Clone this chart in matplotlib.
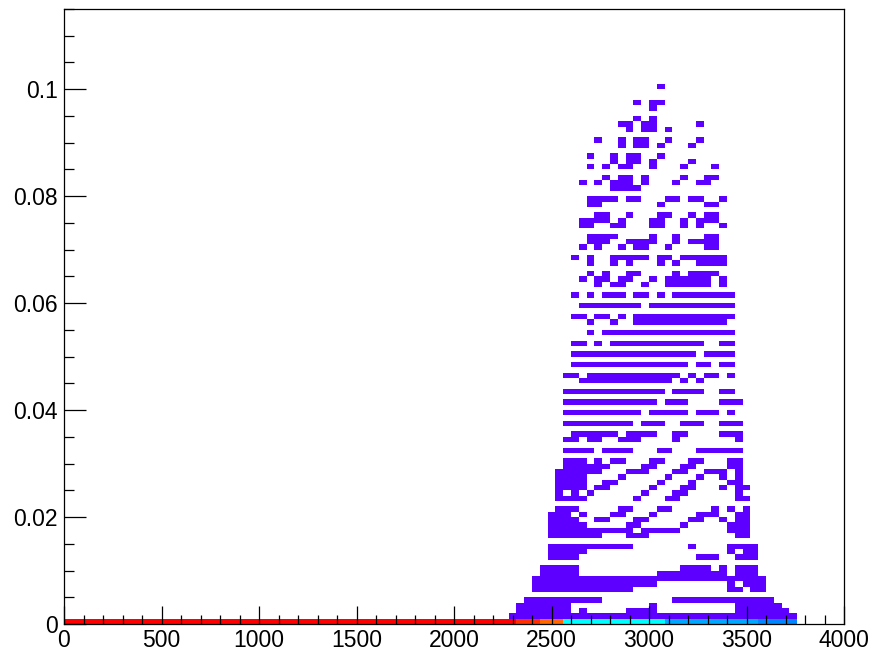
import numpy as np
import matplotlib.pyplot as plt
from matplotlib.colors import ListedColormap, Normalize, hsv_to_rgb
from matplotlib.ticker import MultipleLocator, FixedLocator

plt.rcParams['font.family'] = ['Liberation Sans', 'DejaVu Sans']

# binning: 100 bins of 40 in x, 115 bins of 0.001 in y
x_edges = np.linspace(0, 4000, 101)
y_edges = np.linspace(0, 0.115, 116)

# counts in the lowest y bin, x bins 0..93
base_counts = [1000] * 58 + [955] * 3 + [905] * 3 + [314] * 13 + [238] * 12 + [207] * 5

# single-entry cells: y bin -> list of (first x bin, last x bin)
cell_runs = {
    100: [(76, 76)],
    97: [(73, 73), (75, 76)],
    96: [(75, 75)],
    94: [(73, 73), (75, 75)],
    93: [(71, 72), (74, 75), (81, 81)],
    92: [(72, 72), (74, 75), (77, 77)],
    90: [(68, 68), (71, 71), (73, 74), (77, 77), (81, 81)],
    89: [(71, 71), (73, 74), (76, 76), (80, 80)],
    87: [(67, 67), (70, 70), (72, 73), (76, 76)],
    86: [(70, 70), (72, 73), (75, 75), (80, 80)],
    85: [(67, 67), (69, 69), (71, 72), (75, 75), (79, 79), (83, 83)],
    83: [(69, 69), (71, 72), (74, 74), (79, 79), (82, 83)],
    82: [(66, 66), (68, 68), (70, 72), (74, 74), (78, 78), (81, 82)],
    81: [(70, 73)],
    79: [(67, 70), (72, 73), (77, 78), (80, 81), (84, 84)],
    78: [(67, 68), (76, 76), (82, 83)],
    76: [(68, 69), (72, 72), (76, 77), (80, 80), (82, 83)],
    75: [(66, 69), (71, 71), (75, 76), (79, 79), (81, 83)],
    74: [(66, 67), (70, 71), (75, 76), (79, 79), (81, 81), (84, 84)],
    72: [(67, 70), (75, 75), (78, 78), (82, 83)],
    71: [(67, 69), (72, 75), (78, 78), (80, 83)],
    70: [(66, 66), (68, 68), (71, 71), (73, 74), (77, 77), (82, 83)],
    68: [(65, 65), (67, 67), (70, 74), (76, 77), (79, 84)],
    67: [(67, 67), (70, 70), (72, 72), (76, 76), (78, 78), (81, 84)],
    65: [(67, 67), (69, 69), (72, 73), (78, 78), (80, 83)],
    64: [(66, 66), (68, 69), (71, 72), (75, 75), (77, 82), (84, 84)],
    63: [(68, 68), (70, 71), (74, 74), (77, 82), (84, 84)],
    61: [(65, 65), (67, 67), (69, 71), (73, 74), (76, 76), (78, 85)],
    59: [(66, 73), (75, 85)],
    57: [(65, 66), (68, 69), (71, 71), (73, 85)],
    56: [(67, 67), (70, 70), (73, 84)],
    54: [(67, 67), (69, 85)],
    52: [(65, 66), (68, 68), (70, 81), (84, 85)],
    50: [(65, 80), (82, 85)],
    48: [(65, 79), (81, 82), (84, 85)],
    46: [(64, 65), (67, 78), (80, 80), (82, 83), (85, 85)],
    45: [(66, 77), (79, 79), (81, 81)],
    43: [(64, 76), (78, 81), (84, 85)],
    41: [(64, 75), (77, 79), (84, 86)],
    39: [(64, 73), (75, 79), (81, 83), (85, 85)],
    37: [(64, 72), (74, 76), (79, 81), (84, 86)],
    35: [(65, 70), (72, 75), (78, 79), (84, 86)],
    34: [(64, 65), (67, 68), (71, 73), (78, 78), (86, 86)],
    32: [(64, 67), (69, 72), (76, 77), (81, 86)],
    30: [(64, 66), (68, 68), (70, 71), (75, 76), (80, 81), (85, 86)],
    29: [(64, 69), (74, 75), (79, 80), (85, 86)],
    28: [(63, 68), (72, 74), (78, 79), (82, 84), (86, 86)],
    27: [(63, 66), (71, 71), (77, 77), (81, 81), (84, 84), (86, 86)],
    26: [(63, 66), (69, 70), (76, 76), (80, 80), (85, 86)],
    25: [(63, 66), (68, 69), (75, 75), (79, 80), (84, 84), (86, 87)],
    24: [(63, 63), (65, 65), (67, 67), (74, 74), (78, 79), (86, 86)],
    23: [(63, 66), (73, 73), (77, 78), (86, 87)],
    21: [(63, 65), (71, 72), (76, 77), (83, 83), (85, 85), (87, 87)],
    20: [(62, 64), (66, 66), (70, 71), (75, 75), (81, 83), (86, 87)],
    19: [(62, 65), (68, 69), (73, 74), (80, 81), (84, 84), (86, 87)],
    18: [(62, 66), (72, 73), (79, 79), (85, 87)],
    17: [(62, 72), (74, 78), (85, 87)],
    16: [(62, 68), (72, 74), (86, 87)],
    14: [(62, 72), (80, 80), (85, 88)],
    13: [(62, 66), (85, 85), (87, 88)],
    12: [(62, 65), (81, 83), (86, 88)],
    10: [(61, 65), (79, 82), (84, 84), (86, 88)],
    9: [(61, 65), (76, 84), (86, 88)],
    8: [(60, 89)],
    7: [(60, 75), (85, 85), (87, 89)],
    6: [(60, 72), (85, 86), (88, 89)],
    4: [(59, 68), (78, 90)],
    3: [(58, 64), (75, 75), (86, 91)],
    2: [(58, 64), (66, 66), (72, 75), (86, 92)],
    1: [(57, 93)],
}

x_ticks = [0, 500, 1000, 1500, 2000, 2500, 3000, 3500, 4000]
x_labels = ['0', '500', '1000', '1500', '2000', '2500', '3000', '3500', '4000']
y_ticks = [0, 0.02, 0.04, 0.06, 0.08, 0.1]
y_labels = ['0', '0.02', '0.04', '0.06', '0.08', '0.1']

# fill the 2D histogram
counts = np.zeros((len(y_edges) - 1, len(x_edges) - 1))
counts[0, :len(base_counts)] = base_counts
for iy, runs in cell_runs.items():
    for first, last in runs:
        counts[iy, first:last + 1] = 1
counts = np.ma.masked_equal(counts, 0)

# rainbow palette, violet -> red
hues = np.linspace(262 / 360, 0, 256)
palette = ListedColormap(hsv_to_rgb(np.column_stack([hues, np.ones(256), np.ones(256)])))

fig = plt.figure(figsize=(8.73, 6.53), dpi=100)
ax = fig.add_axes([64 / 873, 29 / 653, 780 / 873, 615 / 653])
ax.pcolormesh(x_edges, y_edges, counts, cmap=palette,
              norm=Normalize(vmin=1, vmax=max(base_counts)),
              shading='flat', antialiased=False, edgecolors='none')

ax.set_xlim(0, 4000)
ax.set_ylim(0, 0.115)

ax.xaxis.set_major_locator(FixedLocator(x_ticks))
ax.set_xticklabels(x_labels)
ax.xaxis.set_minor_locator(MultipleLocator(100))
ax.yaxis.set_major_locator(FixedLocator(y_ticks))
ax.set_yticklabels(y_labels)
ax.yaxis.set_minor_locator(MultipleLocator(0.005))

ax.tick_params(which='both', direction='in', top=False, right=False,
               width=0.9, color='black', labelsize=16.5)
ax.tick_params(axis='x', which='major', length=13, pad=3.5)
ax.tick_params(axis='x', which='minor', length=6.5)
ax.tick_params(axis='y', which='major', length=15.5, pad=4.5)
ax.tick_params(axis='y', which='minor', length=7.5)

for s in ax.spines.values():
    s.set_linewidth(0.9)

fig.savefig('out.png', dpi=100)
